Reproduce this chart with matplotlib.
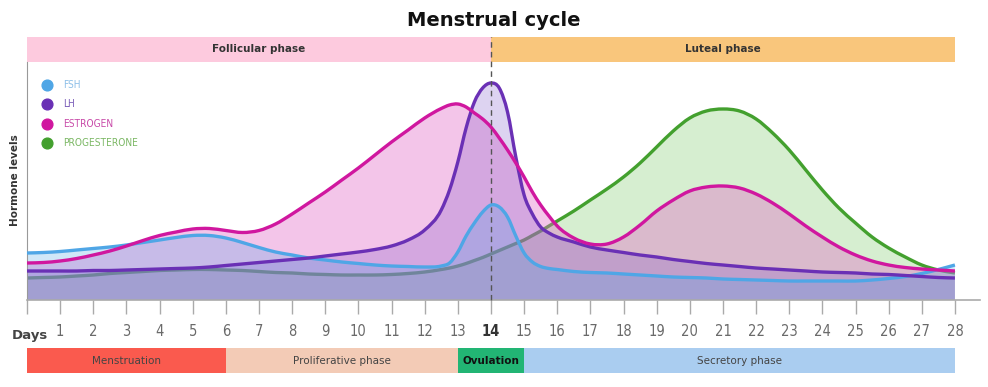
import matplotlib.pyplot as plt
import numpy as np
from matplotlib.path import Path
from matplotlib.patches import PathPatch, Rectangle

# samples (half days, quarter days around ovulation)
days = [0, 0.5, 1, 1.5, 2, 2.5, 3, 3.5, 4, 4.5, 5, 5.5, 6, 6.5, 7, 7.5, 8, 8.5,
        9, 9.5, 10, 10.5, 11, 11.5, 12, 12.5, 12.75, 13, 13.25, 13.5, 13.75, 14,
        14.25, 14.5, 14.75, 15, 15.25, 15.5, 15.75, 16, 16.5, 17, 17.5, 18, 18.5,
        19, 19.5, 20, 20.5, 21, 21.5, 22, 22.5, 23, 23.5, 24, 24.5, 25, 25.5, 26,
        26.5, 27, 27.5, 28]

fsh = [47, 47.5, 48.5, 50, 51.5, 53, 55, 57.5, 60, 62.5, 64.5, 64.5, 62, 57.5,
       52.5, 48, 45, 42, 40, 38, 36.5, 35, 34, 33.5, 33, 34, 37, 48, 64, 77, 88, 95,
       93, 83, 64, 47, 38, 33.5, 31.5, 30.5, 28.5, 27.5, 27, 26, 25, 24, 23, 22.5,
       22, 21, 20.5, 20, 19.5, 19, 19, 19, 19, 19, 20, 21.5, 23.5, 26.5, 30.5, 35]
lh = [29, 29, 29, 29, 29.5, 29.5, 30, 30.5, 31, 31.5, 32, 33, 34.5, 36, 37.5, 39,
      40.5, 42, 44, 46, 48, 50.5, 54, 60, 70, 90, 110, 138, 172, 198, 212, 217, 212,
      188, 143, 105, 86, 73, 67, 63, 58, 53, 50, 47.5, 45, 43, 40.5, 38.5, 36.5,
      35, 33.5, 32, 31, 30, 29, 28, 27.5, 27, 26, 25.5, 24.5, 23.5, 22.5, 22]
estrogen = [37, 37.5, 39, 41.5, 45, 49, 54, 59.5, 64.5, 68, 71, 71.5, 69.5, 67.5,
            69.5, 76, 86, 97, 108, 120, 132, 145, 158, 170, 182, 191.5, 195, 196,
            193, 187, 181, 173, 162, 150, 137, 123, 108, 95, 84, 74, 62, 56, 56, 63,
            75, 89, 100, 109, 113, 114, 112, 106, 97, 86, 74, 63, 53, 45, 39, 35,
            32.5, 31, 30, 29]
progesterone = [22, 22.5, 23, 24, 25, 26.5, 27.5, 28.5, 29.5, 30, 30.5, 30.5, 30,
                29.5, 28.5, 27.5, 27, 26, 25.5, 25, 25, 25, 25.5, 26.5, 28, 30.5,
                32, 34, 36.5, 39.5, 42.5, 46, 49.5, 53, 56.5, 60, 64.5, 69, 74, 79,
                89, 100, 111, 123, 137, 153, 169, 182, 189, 191, 189, 181, 167, 150,
                130, 110, 92, 77, 63, 52, 43, 35, 30, 27]

hormone_names = ["FSH", "LH", "ESTROGEN", "PROGESTERONE"]
line_colors = ["#4fa6e6", "#6a30b5", "#d0179f", "#43a02e"]
fill_colors = ["#46a0e6", "#7850c8", "#e16ec8", "#78c864"]
fill_alpha = [0.25, 0.25, 0.4, 0.3]
text_colors = ["#8cbfe8", "#7a5cb8", "#c84aa8", "#7cb865"]

top_phases = ["Follicular phase", "Luteal phase"]
top_bounds = [0, 14, 28]
top_colors = ["#fdcade", "#f9c67c"]

bottom_phases = ["Menstruation", "Proliferative phase", "Ovulation", "Secretory phase"]
bottom_bounds = [0, 6, 13, 15, 28]
bottom_colors = ["#fa5a4e", "#f3cbb6", "#22b574", "#aacdf0"]


def smooth_path(x, y, close=False):
    x = np.asarray(x, float)
    y = np.asarray(y, float)
    m = np.gradient(y, x)
    verts = [(x[0], y[0])]
    codes = [Path.MOVETO]
    for i in range(len(x) - 1):
        h = x[i + 1] - x[i]
        verts += [(x[i] + h / 3, y[i] + m[i] * h / 3),
                  (x[i + 1] - h / 3, y[i + 1] - m[i + 1] * h / 3),
                  (x[i + 1], y[i + 1])]
        codes += [Path.CURVE4] * 3
    if close:
        verts += [(x[-1], 0), (x[0], 0), (x[0], y[0])]
        codes += [Path.LINETO, Path.LINETO, Path.CLOSEPOLY]
    return Path(verts, codes)


W, H = 988, 387
fig = plt.figure(figsize=(W / 100, H / 100), dpi=100)
px_day = 33.14
left, right, base, top = 27, 980, 300, 62
ax = fig.add_axes([left / W, (H - base) / H, (right - left) / W, (base - top) / H])
ax.set_xlim(0, (right - left) / px_day)
ax.set_ylim(0, base - top)

series = [fsh, lh, estrogen, progesterone]
# fills drawn progesterone, estrogen, LH, FSH
for k, z in zip([3, 2, 1, 0], [1.0, 1.2, 1.3, 1.4]):
    ax.add_patch(PathPatch(smooth_path(days, series[k], close=True),
                           facecolor=fill_colors[k], edgecolor="none",
                           alpha=fill_alpha[k], zorder=z))
# progesterone line sits under the other fills
ax.add_patch(PathPatch(smooth_path(days, progesterone), facecolor="none",
                       edgecolor=line_colors[3], lw=2.4, zorder=1.1))
for vals, c in zip(series[:3], line_colors[:3]):
    ax.add_patch(PathPatch(smooth_path(days, vals), facecolor="none",
                           edgecolor=c, lw=2.4, zorder=3))

# ovulation marker
ax.plot([14, 14], [0, 263], ls=(0, (4, 3)), color="#555555", lw=1,
        zorder=4, clip_on=False)

# phase bands
for i, name in enumerate(top_phases):
    x0, x1 = top_bounds[i], top_bounds[i + 1]
    ax.add_patch(Rectangle((x0, 238), x1 - x0, 25, color=top_colors[i],
                           clip_on=False, lw=0))
    ax.text((x0 + x1) / 2, 250.5, name, ha="center", va="center", fontsize=7.5,
            fontweight="bold", color="#333333")
for i, name in enumerate(bottom_phases):
    x0, x1 = bottom_bounds[i], bottom_bounds[i + 1]
    ax.add_patch(Rectangle((x0, -73), x1 - x0, 25, color=bottom_colors[i],
                           clip_on=False, lw=0))
    ax.text((x0 + x1) / 2, -60.5, name, ha="center", va="center", fontsize=7.5,
            fontweight="bold" if name == "Ovulation" else "normal",
            color="#111111" if name == "Ovulation" else "#444444")

# legend
for i, (name, c, tc) in enumerate(zip(hormone_names, line_colors, text_colors)):
    yy = 215 - i * 19.3
    ax.scatter([0.6], [yy], s=60, color=c, zorder=5)
    ax.text(1.1, yy, name, va="center", ha="left", fontsize=7.3, color=tc,
            fontstretch="condensed")

# axes styling
for s in ["top", "right"]:
    ax.spines[s].set_visible(False)
ax.spines["left"].set_color("#999999")
ax.spines["bottom"].set_color("#aaaaaa")
ax.spines["bottom"].set_linewidth(1.2)
ax.set_yticks([])
ax.set_xticks(range(0, 29))
ax.set_xticklabels([""] + [str(d) for d in range(1, 29)])
ax.tick_params(axis="x", length=10, color="#aaaaaa", width=1, pad=7,
               labelsize=10.5, labelcolor="#6a6a6a")
for lbl in ax.get_xticklabels():
    lbl.set_fontstretch("condensed")
    if lbl.get_text() == "14":
        lbl.set_fontweight("bold")
        lbl.set_color("#333333")

ax.text(-0.45, -36, "Days", ha="left", va="center", fontsize=9.5,
        fontweight="bold", color="#444444")
ax.text(-0.35, 120, "Hormone levels", rotation=90, ha="center", va="center",
        fontsize=7.5, fontweight="bold", color="#333333")
fig.text(494 / W, 1 - 21 / H, "Menstrual cycle", ha="center", va="center",
         fontsize=14, fontweight="bold", color="#111111")

fig.savefig("out.png", dpi=100)
